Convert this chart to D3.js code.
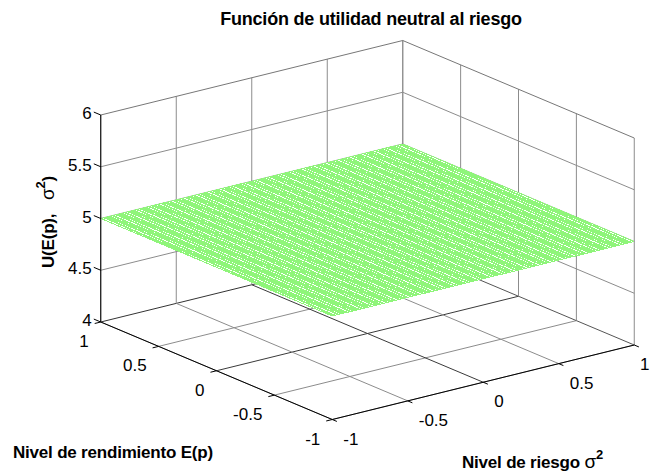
<!DOCTYPE html>
<html>
<head>
<meta charset="utf-8">
<script src="https://cdn.jsdelivr.net/npm/d3@7"></script>
<style>
	body { margin: 0; background: #fff; }
	svg { display: block; font-family: "Liberation Sans", Arial, sans-serif; }
</style>
</head>
<body>
<svg id="viz"></svg>
<script>
/* chart data */
var eTicks = [-1, -0.5, 0, 0.5, 1];
var eLabels = ["-1", "-0.5", "0", "0.5", "1"];
var sTicks = [-1, -0.5, 0, 0.5, 1];
var sLabels = ["-1", "-0.5", "0", "0.5", "1"];
var zTicks = [4, 4.5, 5, 5.5, 6];
var zLabels = ["4", "4.5", "5", "5.5", "6"];

// surface corners (E(p), sigma^2) and U value, flat plane
var surfaceE = [-1, 1];
var surfaceS = [-1, 1];
var surfaceZ = [[5, 5], [5, 5]];
var meshStep = 0.02;

/* create svg */
var width = 650,
	height = 475;

var svg = d3.select('#viz')
		.attr('width', width)
		.attr('height', height);

var center = { x: 367.5, y: 230 };

// orthographic view: each axis gives a screen offset
var ex = d3.scaleLinear().domain([-1, 1]).range([115.75, -115.75]),
	ey = d3.scaleLinear().domain([-1, 1]).range([48.75, -48.75]),
	sx = d3.scaleLinear().domain([-1, 1]).range([-151, 151]),
	sy = d3.scaleLinear().domain([-1, 1]).range([37.25, -37.25]),
	zy = d3.scaleLinear().domain([4, 6]).range([103.5, -103.5]);

var project = function(e, s, z){
	return [center.x + ex(e) + sx(s), center.y + ey(e) + sy(s) + zy(z)];
}

var seg = function(a, b){
	return "M" + a[0] + "," + a[1] + "L" + b[0] + "," + b[1];
}

var eMin = d3.min(eTicks), eMax = d3.max(eTicks),
	sMin = d3.min(sTicks), sMax = d3.max(sTicks),
	zMin = d3.min(zTicks), zMax = d3.max(zTicks);

var gridColor = function(v){
	return v === 0 ? "#3a3a3a" : "#8c8c8c";
}

/* grid on floor and back walls */
var grid = svg.append("g").attr("fill", "none").attr("stroke-width", 1);

// floor
eTicks.forEach(function(e){
	grid.append("path")
		.attr("d", seg(project(e, sMin, zMin), project(e, sMax, zMin)))
		.attr("stroke", e === eMax ? "#333" : gridColor(e));
});
sTicks.forEach(function(s){
	grid.append("path")
		.attr("d", seg(project(eMin, s, zMin), project(eMax, s, zMin)))
		.attr("stroke", s === sMax ? "#555" : gridColor(s));
});

// wall E = 1
sTicks.forEach(function(s){
	grid.append("path")
		.attr("d", seg(project(eMax, s, zMin), project(eMax, s, zMax)))
		.attr("stroke", "#8c8c8c");
});
// wall sigma = 1
eTicks.forEach(function(e){
	grid.append("path")
		.attr("d", seg(project(e, sMax, zMin), project(e, sMax, zMax)))
		.attr("stroke", "#8c8c8c");
});
zTicks.filter(function(z){ return z > zMin; }).forEach(function(z){
	grid.append("path")
		.attr("d", seg(project(eMax, sMin, z), project(eMax, sMax, z)) +
			seg(project(eMax, sMax, z), project(eMin, sMax, z)))
		.attr("stroke", z === zMax ? "#777" : "#8c8c8c");
});

/* mesh surface */
var meshE = d3.range(surfaceE[0], surfaceE[1] + meshStep / 2, meshStep),
	meshS = d3.range(surfaceS[0], surfaceS[1] + meshStep / 2, meshStep);

var zAt = d3.scaleLinear().domain(surfaceE);
var surfZ = function(e, s){
	var t = (s - surfaceS[0]) / (surfaceS[1] - surfaceS[0]);
	var z0 = zAt.range(surfaceZ[0])(e), z1 = zAt.range(surfaceZ[1])(e);
	return z0 + (z1 - z0) * t;
}

var corners = [[surfaceE[0], surfaceS[0]], [surfaceE[1], surfaceS[0]],
	[surfaceE[1], surfaceS[1]], [surfaceE[0], surfaceS[1]]];

svg.append("path")
	.attr("d", "M" + corners.map(function(c){ return project(c[0], c[1], surfZ(c[0], c[1])); }).join("L") + "Z")
	.attr("fill", "#fff");

var meshPath = "";
meshE.forEach(function(e){
	meshPath += seg(project(e, surfaceS[0], surfZ(e, surfaceS[0])), project(e, surfaceS[1], surfZ(e, surfaceS[1])));
});
meshS.forEach(function(s){
	meshPath += seg(project(surfaceE[0], s, surfZ(surfaceE[0], s)), project(surfaceE[1], s, surfZ(surfaceE[1], s)));
});

svg.append("path")
	.attr("d", meshPath)
	.attr("fill", "none")
	.attr("stroke", "#8ff57a")
	.attr("stroke-width", 1)
	.attr("shape-rendering", "crispEdges");

/* axes */
var axes = svg.append("g").attr("stroke", "#000").attr("fill", "none");

axes.append("path").attr("d", seg(project(eMax, sMin, zMin), project(eMax, sMin, zMax)));
axes.append("path").attr("d", seg(project(eMax, sMin, zMin), project(eMin, sMin, zMin)));
axes.append("path").attr("d", seg(project(eMin, sMin, zMin), project(eMin, sMax, zMin)));

var tickLen = 0.04;
zTicks.forEach(function(z){
	axes.append("path").attr("d", seg(project(eMax, sMin, z), project(eMax + tickLen * 1.5, sMin, z)));
});
eTicks.forEach(function(e){
	axes.append("path").attr("d", seg(project(e, sMin, zMin), project(e, sMin - tickLen, zMin)));
});
sTicks.forEach(function(s){
	axes.append("path").attr("d", seg(project(eMin, s, zMin), project(eMin - tickLen, s, zMin)));
});

/* tick labels */
var labels = svg.append("g").attr("font-size", "17px").attr("fill", "#000");

zTicks.forEach(function(z, i){
	var p = project(eMax, sMin, z);
	labels.append("text")
		.attr("x", p[0] - 9)
		.attr("y", p[1] + 4)
		.attr("text-anchor", "end")
		.text(zLabels[i]);
});
eTicks.forEach(function(e, i){
	var p = project(e, sMin, zMin);
	labels.append("text")
		.attr("x", p[0] - 12)
		.attr("y", p[1] + 25)
		.attr("text-anchor", "end")
		.text(eLabels[i]);
});
sTicks.forEach(function(s, i){
	var p = project(eMin, s, zMin);
	labels.append("text")
		.attr("x", Math.min(p[0] + 11, width - 10))
		.attr("y", p[1] + 25)
		.attr("text-anchor", "start")
		.text(sLabels[i]);
});

/* titles */
svg.append("text")
	.attr("x", 371)
	.attr("y", 25)
	.attr("text-anchor", "middle")
	.attr("font-size", "18px")
	.attr("font-weight", "bold")
	.attr("letter-spacing", "-0.2px")
	.text("Función de utilidad neutral al riesgo");

svg.append("text")
	.attr("x", 13)
	.attr("y", 458)
	.attr("font-size", "17px")
	.attr("font-weight", "bold")
	.attr("letter-spacing", "-0.2px")
	.text("Nivel de rendimiento E(p)");

var riskLabel = svg.append("text")
	.attr("x", 462)
	.attr("y", 468)
	.attr("font-size", "17px")
	.attr("font-weight", "bold")
	.attr("letter-spacing", "-0.2px");
riskLabel.append("tspan").text("Nivel de riesgo ");
riskLabel.append("tspan").attr("font-weight", "normal").attr("font-size", "19px").text("σ");
riskLabel.append("tspan").attr("dy", -9).attr("font-size", "13px").text("2");

var zLabel = svg.append("text")
	.attr("transform", "translate(54,268) rotate(-90)")
	.attr("font-size", "17px")
	.attr("font-weight", "bold")
	.attr("letter-spacing", "-0.2px");
zLabel.append("tspan").text("U(E(p),\u00a0\u00a0\u00a0");
zLabel.append("tspan").attr("font-weight", "normal").attr("font-size", "19px").text("σ");
zLabel.append("tspan").attr("dy", -9).attr("font-size", "13px").text("2");
zLabel.append("tspan").attr("dy", 9).text(")");
</script>
</body>
</html>
